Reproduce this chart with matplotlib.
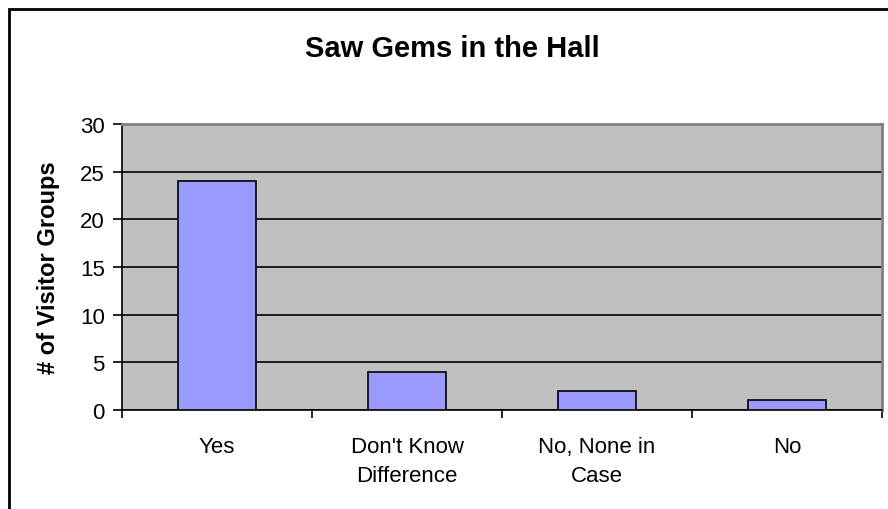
import matplotlib.pyplot as plt
from matplotlib.patches import Rectangle
import numpy as np

plt.rcParams['font.family'] = ['Liberation Sans', 'DejaVu Sans']

# answers and how many visitor groups gave each one
categories = ["Yes", "Don't Know\nDifference", "No, None in\nCase", "No"]
groups = [24, 4, 2, 1]
y_ticks = [0, 5, 10, 15, 20, 25, 30]

fig = plt.figure(figsize=(8.88, 5.10), dpi=100)
fig.patch.set_facecolor("white")

# outer chart frame (runs off the right and bottom edges)
fig.patches.append(Rectangle((9 / 888, -0.1), 1.2, 1 - 10 / 510 + 0.1,
                             transform=fig.transFigure, fill=False,
                             edgecolor="black", linewidth=2))

ax = fig.add_axes([122 / 888, 99 / 510, 760 / 888, 286 / 510])
ax.set_facecolor("#c0c0c0")

x = np.arange(len(categories))
ax.bar(x, groups, width=0.41, color="#9999ff", edgecolor="black",
       linewidth=1.2, zorder=3)

ax.set_xlim(-0.5, len(categories) - 0.5)
ax.set_ylim(0, 30)
ax.set_yticks(y_ticks)
ax.yaxis.grid(True, color="black", linewidth=1.2, zorder=1)
ax.set_axisbelow(True)

# category ticks sit between the bars, labels under the bar centres
ax.set_xticks(np.arange(len(categories) + 1) - 0.5)
ax.set_xticklabels([])
ax.set_xticks(x, minor=True)
ax.set_xticklabels(categories, minor=True, fontsize=16, linespacing=1.45)
ax.tick_params(axis="x", which="minor", length=0, pad=19)
ax.tick_params(axis="x", which="major", length=6, width=1.2, direction="out")
ax.tick_params(axis="y", length=6.5, width=1.2, direction="out", labelsize=16, pad=6)

for side in ["left", "bottom"]:
    ax.spines[side].set_color("black")
    ax.spines[side].set_linewidth(1.2)
for side in ["top", "right"]:
    ax.spines[side].set_color("#808080")
    ax.spines[side].set_linewidth(2)

ax.set_ylabel("# of Visitor Groups", fontsize=17, fontweight="bold", labelpad=14)
fig.text(452 / 888, 1 - 49 / 510, "Saw Gems in the Hall", ha="center",
         va="center", fontsize=21, fontweight="bold")

fig.savefig("out.png", dpi=100)
